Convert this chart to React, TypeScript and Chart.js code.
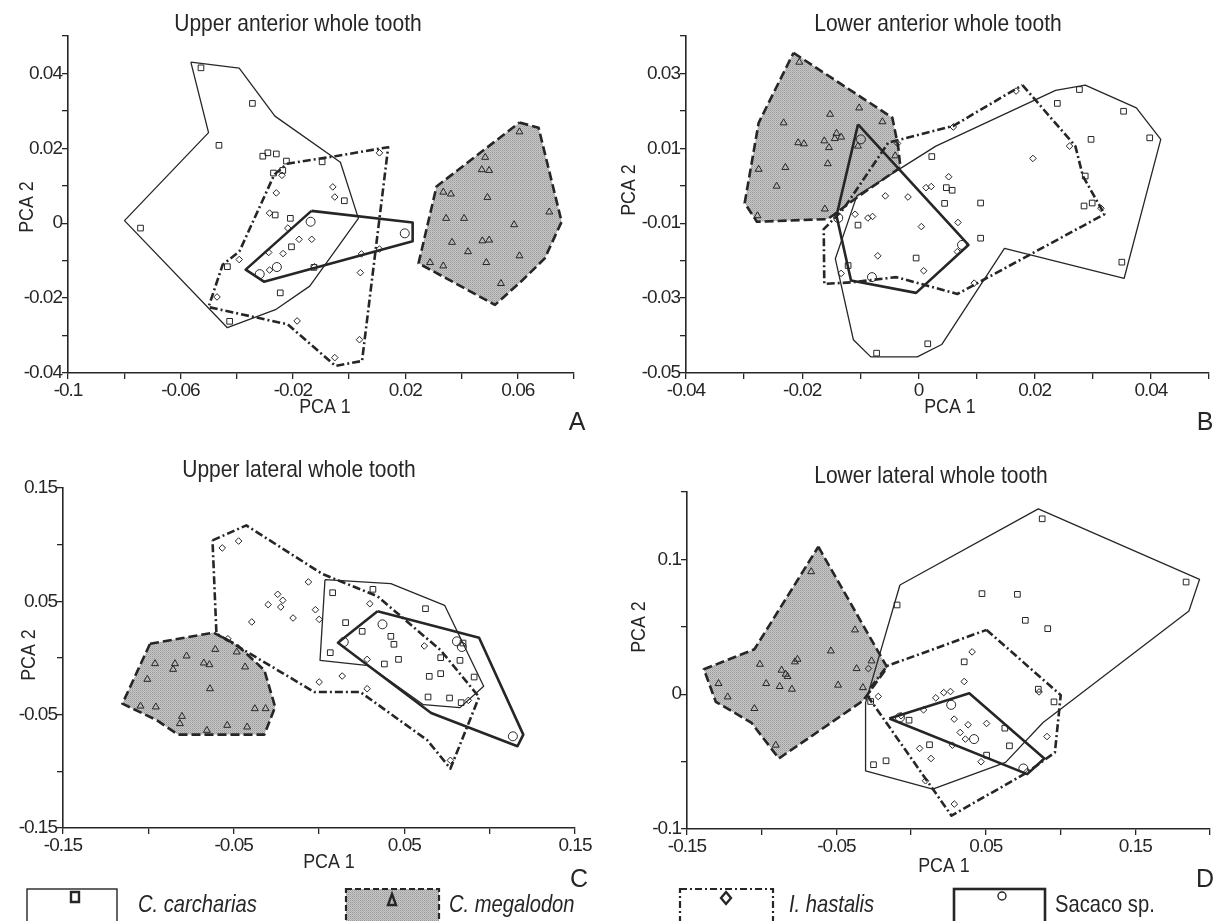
import React, { useEffect, useRef } from "react";
import { Chart, registerables } from "chart.js";
Chart.register(...registerables);

type P = [number, number];

// ---------- Panel A: Upper anterior whole tooth ----------
const A_carchariasPts: P[] = [[-0.0527,0.0415],[-0.0344,0.032],[-0.0463,0.0208],[-0.0307,0.0179],[-0.0289,0.0188],[-0.0259,0.0185],[-0.0223,0.0166],[-0.0096,0.0164],[-0.0269,0.0134],[-0.0236,0.0141],[-0.0017,0.006],[-0.0263,0.0022],[-0.0209,0.0013],[-0.0205,-0.0063],[-0.0742,-0.0013],[-0.0433,-0.0116],[-0.0245,-0.0186],[-0.0425,-0.0262],[-0.0125,-0.0118]];
const A_carchariasHull: P[] = [[-0.0563,0.043],[-0.0391,0.0414],[-0.0264,0.0286],[-0.0031,0.0163],[0.0033,0.0013],[-0.014,-0.0168],[-0.0262,-0.0231],[-0.0433,-0.0279],[-0.0799,0.0007],[-0.05,0.0242]];
const A_megalodonPts: P[] = [[0.0606,0.0244],[0.0484,0.0176],[0.0472,0.0143],[0.0498,0.0141],[0.0335,0.0083],[0.0362,0.0078],[0.0492,0.0069],[0.0712,0.003],[0.0345,0.0013],[0.0409,0.0013],[0.0587,-0.0004],[0.0366,-0.0051],[0.0474,-0.0047],[0.0498,-0.0045],[0.0423,-0.0076],[0.0606,-0.0087],[0.0288,-0.0105],[0.0335,-0.0114],[0.0488,-0.0105],[0.054,-0.0161]];
const A_megalodonHull: P[] = [[0.0606,0.0269],[0.0674,0.0255],[0.0756,0.0004],[0.0696,-0.0094],[0.061,-0.0157],[0.0519,-0.0218],[0.0247,-0.0107],[0.0311,0.0098]];
const A_hastalisPts: P[] = [[0.0108,0.0188],[-0.0239,0.0128],[-0.0259,0.0081],[-0.0058,0.0097],[-0.0051,0.007],[-0.0283,0.0027],[-0.0218,-0.0013],[-0.0178,-0.0043],[-0.0133,-0.0043],[-0.0286,-0.0078],[-0.0235,-0.0081],[-0.0391,-0.0097],[-0.0283,-0.0125],[-0.0123,-0.0116],[0.0044,-0.0082],[0.0108,-0.0069],[0.004,-0.0132],[-0.047,-0.0197],[-0.0185,-0.0261],[0.0037,-0.0311],[-0.0051,-0.0359]];
const A_hastalisHull: P[] = [[-0.0221,0.0159],[-0.0049,0.0179],[0.0139,0.0203],[0.0046,-0.0368],[-0.0049,-0.0381],[-0.0219,-0.027],[-0.05,-0.0224],[-0.045,-0.0111],[-0.039,-0.0075],[-0.0266,0.013]];
const A_sacacoPts: P[] = [[-0.0137,0.0004],[0.0198,-0.0027],[-0.0257,-0.0117],[-0.0318,-0.0136]];
const A_sacacoHull: P[] = [[-0.0134,0.0033],[0.0226,0.0002],[0.0226,-0.0048],[-0.0303,-0.0156],[-0.0368,-0.0124]];

// ---------- Panel B: Lower anterior whole tooth ----------
const B_carchariasPts: P[] = [[0.0277,0.0257],[0.0239,0.022],[0.0353,0.0199],[0.0297,0.0124],[0.0398,0.0128],[0.0023,0.0078],[0.0287,0.0026],[0.0048,-0.0005],[0.0058,-0.0012],[0.0045,-0.0047],[0.0107,-0.0046],[0.0285,-0.0054],[0.0299,-0.0046],[-0.0104,-0.0105],[0.0107,-0.014],[-0.0004,-0.0193],[0.035,-0.0204],[-0.0121,-0.0213],[-0.0072,-0.0447],[0.0016,-0.0422]];
const B_carchariasHull: P[] = [[-0.0106,-0.0027],[0.003,0.0106],[0.0236,0.0255],[0.0287,0.0269],[0.0375,0.0208],[0.0417,0.0124],[0.0354,-0.0247],[0.0148,-0.0167],[0.004,-0.0424],[-0.0002,-0.0457],[-0.0082,-0.0457],[-0.0112,-0.0411],[-0.0143,-0.0195]];
const B_megalodonPts: P[] = [[-0.0205,0.033],[-0.0102,0.0208],[-0.0152,0.0191],[-0.0062,0.0171],[-0.0232,0.0168],[-0.0141,0.014],[-0.0133,0.013],[-0.0144,0.0126],[-0.0207,0.0115],[-0.0197,0.0112],[-0.0162,0.012],[-0.0154,0.0102],[-0.0104,0.0106],[-0.0156,0.0059],[-0.0229,0.0049],[-0.0275,0.0044],[-0.004,0.008],[-0.0244,-0.0001],[-0.0161,-0.0062],[-0.0277,-0.008]];
const B_megalodonHull: P[] = [[-0.0215,0.0355],[-0.0045,0.0182],[-0.0035,0.0106],[-0.0031,0.0049],[-0.0102,-0.0027],[-0.0156,-0.0089],[-0.0278,-0.0096],[-0.0299,-0.0046],[-0.0275,0.0168]];
const B_hastalisPts: P[] = [[0.0168,0.0253],[0.006,0.0157],[-0.0036,0.0113],[0.026,0.0106],[0.0197,0.0073],[0.0052,0.0024],[0.0013,-0.0005],[0.0022,-0.0002],[-0.0057,-0.0027],[-0.0018,-0.003],[0.0314,-0.006],[-0.0109,-0.0076],[-0.0087,-0.0086],[-0.0079,-0.0082],[0.0068,-0.0098],[0.0005,-0.0109],[-0.007,-0.0187],[0.0067,-0.0176],[0.0009,-0.0227],[-0.0133,-0.0234],[0.0096,-0.026]];
const B_hastalisHull: P[] = [[0.0179,0.0269],[0.027,0.0106],[0.0283,0.0026],[0.032,-0.0076],[0.0067,-0.0289],[-0.0038,-0.0244],[-0.0116,-0.0258],[-0.0162,-0.0262],[-0.0163,-0.0116],[-0.0129,-0.0062],[-0.0052,0.0115],[0.006,0.016]];
const B_sacacoPts: P[] = [[-0.0099,0.0124],[-0.0138,-0.0086],[0.0075,-0.0158],[-0.008,-0.0244]];
const B_sacacoHull: P[] = [[-0.0104,0.0164],[0.0086,-0.0158],[-0.0004,-0.0286],[-0.0116,-0.0253],[-0.0141,-0.008]];

// ---------- Panel C: Upper lateral whole tooth ----------
const C_carchariasPts: P[] = [[0.008,0.0576],[0.0316,0.0606],[0.0624,0.0435],[0.0156,0.0312],[0.0253,0.0235],[0.0421,0.0191],[0.0439,0.0121],[0.0066,0.0047],[0.0466,-0.0012],[0.0383,-0.0053],[0.0826,-0.0021],[0.0713,0.0003],[0.0646,-0.0162],[0.0713,-0.0138],[0.0909,-0.0168],[0.0639,-0.0344],[0.0765,-0.0353],[0.0833,-0.0394],[0.0844,0.0132]];
const C_carchariasHull: P[] = [[0.0035,0.0691],[0.0421,0.0656],[0.0736,0.0465],[0.0965,-0.025],[0.0826,-0.0438],[0.0612,-0.0412],[0.0291,-0.0068],[0.0006,-0.0021]];
const C_megalodonPts: P[] = [[-0.0608,0.0076],[-0.0482,0.0053],[-0.0776,0.0018],[-0.0961,-0.005],[-0.0844,-0.005],[-0.0675,-0.0044],[-0.0642,-0.0059],[-0.0433,-0.0079],[-0.0855,-0.01],[-0.1006,-0.0188],[-0.0639,-0.0271],[-0.1046,-0.0424],[-0.0956,-0.0432],[-0.0803,-0.0515],[-0.0815,-0.0579],[-0.0538,-0.0594],[-0.0421,-0.0609],[-0.0657,-0.0638],[-0.0376,-0.0447],[-0.0313,-0.0447]];
const C_megalodonHull: P[] = [[-0.099,0.0126],[-0.0619,0.0224],[-0.0478,0.0112],[-0.032,-0.0109],[-0.0257,-0.0432],[-0.032,-0.0676],[-0.0826,-0.0676],[-0.0949,-0.055],[-0.1152,-0.0403]];
const C_hastalisPts: P[] = [[-0.0567,0.0971],[-0.0471,0.1032],[-0.0062,0.0671],[-0.0242,0.0562],[-0.0212,0.0509],[-0.0298,0.0471],[-0.0224,0.045],[-0.0152,0.0353],[-0.0021,0.0426],[0.0001,0.0341],[-0.0394,0.0318],[0.0298,0.0479],[-0.0534,0.017],[0.0617,0.0106],[0.0282,-0.0012],[0.0136,-0.0159],[0.0001,-0.0212],[0.0282,-0.0271],[0.0875,-0.0374],[0.077,-0.0903]];
const C_hastalisHull: P[] = [[-0.0624,0.1038],[-0.0426,0.117],[0.0017,0.0744],[0.0343,0.0544],[0.0713,0.0068],[0.0938,-0.0344],[0.077,-0.0976],[0.0635,-0.0726],[0.0242,-0.03],[-0.0028,-0.03],[-0.0601,0.0215]];
const C_sacacoPts: P[] = [[0.0372,0.0297],[0.0145,0.0141],[0.0808,0.0147],[0.0837,0.0097],[0.1136,-0.0691]];
const C_sacacoHull: P[] = [[0.0343,0.0412],[0.0938,0.0179],[0.1197,-0.0676],[0.1163,-0.0779],[0.0657,-0.0485],[0.0111,0.0135]];

// ---------- Panel D: Lower lateral whole tooth ----------
const D_carchariasPts: P[] = [[0.0877,0.1301],[0.184,0.0832],[-0.0094,0.0662],[0.0474,0.0746],[0.0711,0.0741],[0.0764,0.0548],[0.0914,0.0486],[0.0355,0.024],[0.0851,0.0037],[0.0956,-0.0057],[-0.0271,-0.0054],[-0.0014,-0.0193],[0.0627,-0.0252],[0.0123,-0.0375],[0.0658,-0.0383],[0.0505,-0.0452],[-0.0168,-0.0494],[-0.0252,-0.0523]];
const D_carchariasHull: P[] = [[-0.0075,0.081],[0.0851,0.1375],[0.193,0.0852],[0.1859,0.0617],[0.0883,-0.021],[0.0632,-0.0506],[0.0144,-0.0704],[-0.0305,-0.0568],[-0.0305,-0.0062]];
const D_megalodonPts: P[] = [[-0.0669,0.0909],[-0.0376,0.0477],[-0.0537,0.0321],[-0.1012,0.0222],[-0.0761,0.0259],[-0.0778,0.024],[-0.0867,0.0178],[-0.084,0.0148],[-0.0827,0.0131],[-0.1289,0.0079],[-0.097,0.0079],[-0.088,0.0057],[-0.0798,0.0037],[-0.0489,0.0067],[-0.0365,0.019],[-0.0265,0.0247],[-0.1228,-0.002],[-0.1049,-0.0106],[-0.0906,-0.0378],[-0.0323,0.0049]];
const D_megalodonHull: P[] = [[-0.0621,0.1094],[-0.016,0.0198],[-0.0323,-0.0049],[-0.0885,-0.0477],[-0.107,-0.021],[-0.1307,-0.0057],[-0.1387,0.0185],[-0.1049,0.0333]];
const D_hastalisPts: P[] = [[0.0408,0.0314],[0.0355,0.0094],[0.0856,0.0017],[-0.022,-0.0017],[0.0165,-0.0027],[0.0218,0.0012],[0.0263,0.002],[0.0083,-0.0116],[0.0288,-0.0185],[0.0381,-0.0227],[0.0505,-0.0217],[0.0328,-0.0284],[0.0363,-0.0333],[0.0276,-0.0378],[0.0057,-0.0402],[0.0133,-0.0477],[0.0468,-0.0501],[0.0909,-0.0314],[-0.0286,0.019],[0.0777,-0.0573],[0.0289,-0.0815],[0.0096,-0.0642],[-0.0067,-0.016]];
const D_hastalisHull: P[] = [[0.0505,0.0477],[0.1001,-0.0007],[0.0962,-0.0432],[0.0777,-0.058],[0.027,-0.0901],[-0.0284,-0.0025],[-0.0271,0.0049],[-0.016,0.021]];
const D_sacacoPts: P[] = [[-0.0075,-0.0173],[0.0268,-0.0079],[0.0421,-0.0333],[0.0751,-0.0551]];
const D_sacacoHull: P[] = [[-0.0146,-0.018],[0.0389,0.0007],[0.0891,-0.0477],[0.0777,-0.0593]];

// ---------- Legend ----------
const LEGEND_LABELS = ["C. carcharias", "C. megalodon", "I. hastalis", "Sacaco sp."];

const W = 1216;
const H = 921;
const SANS = "'Liberation Sans', Arial, sans-serif";
const INK = "#262626";

type Panel = {
  id: string;
  title: string;
  area: { l: number; t: number; r: number; b: number };
  xr: [number, number, number];
  yr: [number, number, number];
  titlePos: [number, number];
  yTitlePos: [number, number];
  xTitlePos: [number, number];
  letterPos: [number, number];
  carcharias: [P[], P[]];
  megalodon: [P[], P[]];
  hastalis: [P[], P[]];
  sacaco: [P[], P[]];
  legend?: boolean;
};

const PANELS: Panel[] = [
  { id: "A", title: "Upper anterior whole tooth", area: { l: 68, t: 36, r: 574, b: 373 }, xr: [-0.1, 0.08, 0.02], yr: [-0.04, 0.05, 0.01],
    titlePos: [298, 31], yTitlePos: [27, 207], xTitlePos: [325, 407], letterPos: [577, 423],
    carcharias: [A_carchariasPts, A_carchariasHull], megalodon: [A_megalodonPts, A_megalodonHull], hastalis: [A_hastalisPts, A_hastalisHull], sacaco: [A_sacacoPts, A_sacacoHull] },
  { id: "B", title: "Lower anterior whole tooth", area: { l: 686, t: 36, r: 1209, b: 373 }, xr: [-0.04, 0.05, 0.01], yr: [-0.05, 0.04, 0.01],
    titlePos: [938, 31], yTitlePos: [629, 190], xTitlePos: [950, 407], letterPos: [1205, 423],
    carcharias: [B_carchariasPts, B_carchariasHull], megalodon: [B_megalodonPts, B_megalodonHull], hastalis: [B_hastalisPts, B_hastalisHull], sacaco: [B_sacacoPts, B_sacacoHull] },
  { id: "C", title: "Upper lateral whole tooth", area: { l: 63, t: 488, r: 575, b: 828 }, xr: [-0.15, 0.15, 0.05], yr: [-0.15, 0.15, 0.05],
    titlePos: [299, 477], yTitlePos: [29, 655], xTitlePos: [329, 862], letterPos: [579, 880],
    carcharias: [C_carchariasPts, C_carchariasHull], megalodon: [C_megalodonPts, C_megalodonHull], hastalis: [C_hastalisPts, C_hastalisHull], sacaco: [C_sacacoPts, C_sacacoHull] },
  { id: "D", title: "Lower lateral whole tooth", area: { l: 687, t: 492, r: 1210, b: 829 }, xr: [-0.15, 0.2, 0.05], yr: [-0.1, 0.15, 0.05],
    titlePos: [931, 483], yTitlePos: [639, 627], xTitlePos: [944, 866], letterPos: [1205, 880],
    carcharias: [D_carchariasPts, D_carchariasHull], megalodon: [D_megalodonPts, D_megalodonHull], hastalis: [D_hastalisPts, D_hastalisHull], sacaco: [D_sacacoPts, D_sacacoHull], legend: true },
];

const toXY = (a: P[]) => a.map(([x, y]) => ({ x, y }));
const closed = (a: P[]) => toXY([...a, a[0]]);
const fmt = (v: number) => String(Number(v.toFixed(3)));

function makePattern(): CanvasPattern | string {
  const c = document.createElement("canvas");
  c.width = 2; c.height = 2;
  const g = c.getContext("2d");
  if (!g) return "#b4b4b4";
  g.fillStyle = "#c6c6c6"; g.fillRect(0, 0, 2, 2);
  g.fillStyle = "#9a9a9a"; g.fillRect(0, 0, 1, 1);
  g.fillStyle = "#b0b0b0"; g.fillRect(1, 1, 1, 1);
  return g.createPattern(c, "repeat") || "#b4b4b4";
}

// condensed tick labels (reference uses a narrow face)
const tightTextPlugin = {
  id: "tightText",
  beforeDraw(chart: any) {
    try { chart.ctx.letterSpacing = "-1px"; } catch (e) { /* ignore */ }
  },
  afterDraw(chart: any) {
    try { chart.ctx.letterSpacing = "0px"; } catch (e) { /* ignore */ }
  },
};

const hullFillPlugin = {
  id: "hullFill",
  beforeDatasetsDraw(chart: any) {
    const ctx = chart.ctx;
    chart.data.datasets.forEach((ds: any, i: number) => {
      if (!ds.hullFill) return;
      const pts = chart.getDatasetMeta(i).data;
      ctx.save();
      ctx.beginPath();
      pts.forEach((p: any, j: number) => (j ? ctx.lineTo(p.x, p.y) : ctx.moveTo(p.x, p.y)));
      ctx.closePath();
      ctx.fillStyle = ds.hullFill;
      ctx.fill();
      ctx.restore();
    });
  },
};

function drawText(ctx: any, text: string, x: number, y: number, font: string, sx: number, opts: any = {}) {
  ctx.save();
  try { ctx.letterSpacing = "0px"; } catch (e) { /* ignore */ }
  ctx.fillStyle = INK;
  ctx.font = font;
  ctx.textAlign = opts.align || "center";
  ctx.textBaseline = opts.baseline || "middle";
  ctx.translate(x, y);
  if (opts.rot) ctx.rotate(opts.rot);
  ctx.scale(sx, 1);
  ctx.fillText(text, 0, 0);
  ctx.restore();
}

const textPlugin = {
  id: "panelText",
  afterDraw(chart: any, _a: any, opts: any) {
    const ctx = chart.ctx;
    (opts.items || []).forEach((it: any) => {
      drawText(ctx, it.text, it.x, it.y, it.font, it.sx || 1, it);
    });
  },
};

const legendPlugin = {
  id: "boxLegend",
  afterDraw(chart: any, _a: any, opts: any) {
    if (!opts.show) return;
    const ctx = chart.ctx;
    const top = 889;
    const hgt = 44;
    const boxes = [
      { x: 27, w: 90, dash: [] as number[], lw: 1.4, fill: null as any, marker: "rect", mx: 75, my: 897 },
      { x: 346, w: 93, dash: [6, 3], lw: 2.2, fill: opts.pattern, marker: "tri", mx: 392, my: 900 },
      { x: 680, w: 93, dash: [7, 3, 2, 3], lw: 2.2, fill: null, marker: "dia", mx: 726, my: 898 },
      { x: 954, w: 91, dash: [], lw: 2.6, fill: null, marker: "circ", mx: 1002, my: 896 },
    ];
    const textX = [138, 449, 789, 1055];
    boxes.forEach((b, i) => {
      ctx.save();
      if (b.fill) { ctx.fillStyle = b.fill; ctx.fillRect(b.x, top, b.w, hgt); }
      ctx.strokeStyle = INK;
      ctx.lineWidth = b.lw;
      ctx.setLineDash(b.dash);
      ctx.strokeRect(b.x, top, b.w, hgt);
      ctx.setLineDash([]);
      ctx.lineWidth = 2.4;
      ctx.beginPath();
      if (b.marker === "rect") ctx.rect(b.mx - 4, b.my - 5, 8, 10);
      if (b.marker === "tri") { ctx.moveTo(b.mx, b.my - 6); ctx.lineTo(b.mx + 4, b.my + 5); ctx.lineTo(b.mx - 4, b.my + 5); ctx.closePath(); }
      if (b.marker === "dia") { ctx.moveTo(b.mx, b.my - 6); ctx.lineTo(b.mx + 5, b.my); ctx.lineTo(b.mx, b.my + 6); ctx.lineTo(b.mx - 5, b.my); ctx.closePath(); }
      if (b.marker === "circ") { ctx.lineWidth = 1.4; ctx.arc(b.mx, b.my, 4, 0, Math.PI * 2); }
      ctx.stroke();
      ctx.restore();
      drawText(ctx, LEGEND_LABELS[i], textX[i], 905, (i < 3 ? "italic " : "") + "24px " + SANS, 0.84, { align: "left" });
    });
  },
};

function buildConfig(p: Panel, pattern: any): any {
  const yW = 50;
  const xH = 30;
  const pointDs = (label: string, pts: P[], style: string, r: number) => ({
    label, data: toXY(pts), pointStyle: style, pointRadius: r, pointHoverRadius: r,
    pointBorderColor: INK, pointBackgroundColor: "rgba(0,0,0,0)", pointBorderWidth: 1,
    showLine: false, order: 1,
  });
  const hullDs = (label: string, hull: P[], lw: number, dash: number[], fill?: any) => ({
    label, data: closed(hull), showLine: true, pointRadius: 0, pointHoverRadius: 0,
    borderColor: INK, borderWidth: lw, borderDash: dash, tension: 0, fill: false,
    hullFill: fill, order: 3, borderJoinStyle: "round",
  });
  const tickCb = (v: any, i: number) => (i % 2 === 0 ? fmt(Number(v)) : "");
  const scaleCommon = {
    type: "linear",
    grid: { drawOnChartArea: false, drawTicks: true, tickLength: 6, color: INK, lineWidth: 1.3 },
    border: { display: true, color: INK, width: 1.6 },
  };
  return {
    type: "scatter",
    data: {
      datasets: [
        hullDs("megalodon hull", p.megalodon[1], 2.6, [9, 4], pattern),
        hullDs("carcharias hull", p.carcharias[1], 1.3, []),
        hullDs("hastalis hull", p.hastalis[1], 2.6, [8, 3, 2, 3]),
        hullDs("Sacaco hull", p.sacaco[1], 2.6, []),
        pointDs("C. carcharias", p.carcharias[0], "rect", 4),
        pointDs("C. megalodon", p.megalodon[0], "triangle", 4),
        pointDs("I. hastalis", p.hastalis[0], "rectRot", 3.3),
        pointDs("Sacaco sp.", p.sacaco[0], "circle", 4.5),
      ],
    },
    options: {
      animation: false,
      responsive: false,
      devicePixelRatio: 1,
      events: [],
      layout: { padding: { left: p.area.l - yW, top: p.area.t, right: W - p.area.r, bottom: H - p.area.b - xH } },
      scales: {
        x: {
          ...scaleCommon,
          min: p.xr[0], max: p.xr[1],
          afterFit: (s: any) => { s.height = xH; },
          ticks: { stepSize: p.xr[2], autoSkip: false, maxRotation: 0, minRotation: 0, padding: 0, color: INK, font: { family: SANS, size: 19 }, callback: tickCb },
        },
        y: {
          ...scaleCommon,
          min: p.yr[0], max: p.yr[1],
          afterFit: (s: any) => { s.width = yW; },
          ticks: { stepSize: p.yr[2], autoSkip: false, padding: 0, color: INK, font: { family: SANS, size: 19 }, callback: tickCb },
        },
      },
      plugins: {
        legend: { display: false },
        tooltip: { enabled: false },
        panelText: {
          items: [
            { text: p.title, x: p.titlePos[0], y: p.titlePos[1], font: "24px " + SANS, baseline: "alphabetic", sx: 0.875 },
            { text: "PCA 2", x: p.yTitlePos[0], y: p.yTitlePos[1], font: "21px " + SANS, rot: -Math.PI / 2, sx: 0.85 },
            { text: "PCA 1", x: p.xTitlePos[0], y: p.xTitlePos[1], font: "21px " + SANS, sx: 0.85 },
            { text: p.id, x: p.letterPos[0], y: p.letterPos[1], font: "25px " + SANS, sx: 1 },
          ],
        },
        boxLegend: { show: !!p.legend, pattern },
      },
    },
    plugins: [tightTextPlugin, hullFillPlugin, textPlugin, legendPlugin],
  };
}

function PanelChart({ panel }: { panel: Panel }) {
  const ref = useRef<HTMLCanvasElement>(null);
  useEffect(() => {
    if (!ref.current) return;
    const chart = new Chart(ref.current, buildConfig(panel, makePattern()));
    return () => chart.destroy();
  }, [panel]);
  return (
    <canvas
      ref={ref}
      width={W}
      height={H}
      style={{ position: "absolute", left: 0, top: 0, width: W, height: H, pointerEvents: "none" }}
    />
  );
}

export default function App() {
  return (
    <div style={{ position: "absolute", left: 0, top: 0, width: W, height: H, background: "#fff", overflow: "hidden" }}>
      {PANELS.map((p) => (
        <PanelChart key={p.id} panel={p} />
      ))}
    </div>
  );
}
